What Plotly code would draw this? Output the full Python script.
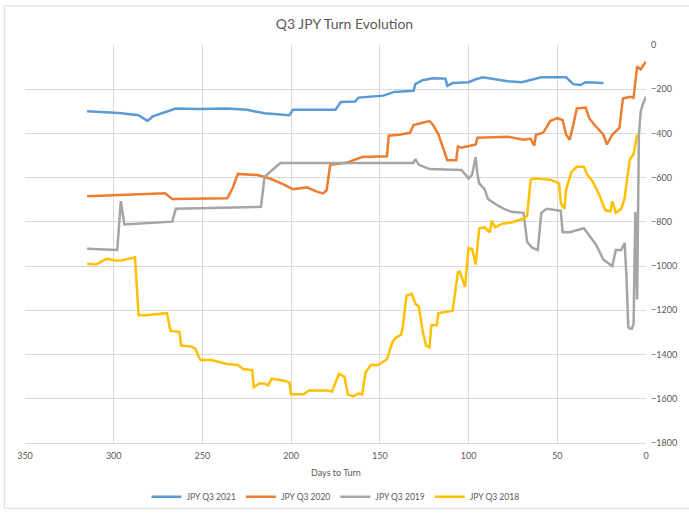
import plotly.graph_objects as go

# JPY Q3 2021
days_2021 = [315, 309, 297, 286, 281, 278, 272, 265, 252, 236, 225, 215, 208, 201, 199, 191, 182, 175, 172, 164, 162,
             148, 142, 131, 130, 126, 120, 113, 112, 109, 100, 96, 92, 85, 78, 70, 59, 45, 41, 37, 34, 24]
vals_2021 = [-300, -303, -308, -318, -343, -323, -308, -287, -289, -287, -293, -309, -313, -318, -293, -293, -295, -293,
             -258, -256, -238, -229, -212, -207, -177, -159, -150, -152, -185, -172, -168, -155, -146, -155, -164, -168,
             -146, -146, -177, -181, -168, -172]

# JPY Q3 2020
days_2020 = [315, 271, 267, 236, 233, 230, 219, 212, 204, 199, 191, 186, 182, 180, 178, 169, 160, 146, 145, 139, 133,
             131, 126, 122, 120, 117, 115, 112, 107, 106, 104, 96, 95, 78, 69, 65, 63, 62, 58, 54, 50, 47, 45, 43, 41,
             39, 34, 32, 29, 24, 22, 19, 15, 13, 9, 7, 5, 3, 0]
vals_2020 = [-684, -671, -697, -693, -648, -583, -588, -604, -631, -652, -644, -662, -671, -657, -542, -533, -507, -503,
             -410, -406, -397, -362, -352, -344, -362, -404, -450, -521, -521, -459, -464, -450, -419, -415, -428, -424,
             -455, -406, -397, -344, -331, -339, -406, -428, -362, -287, -283, -331, -362, -406, -450, -406, -375, -242,
             -234, -238, -97, -110, -75]

# JPY Q3 2019
days_2019 = [315, 298, 296, 294, 267, 265, 217, 215, 210, 206, 131, 130, 128, 122, 104, 100, 98, 96, 95, 94, 91, 89,
             85, 80, 76, 69, 67, 64, 61, 59, 56, 48, 47, 43, 35, 32, 28, 24, 20, 19, 17, 14, 12, 11, 10, 9, 8, 7, 6, 5,
             4, 3, 2, 1, 0]
vals_2019 = [-922, -927, -706, -812, -799, -741, -732, -596, -561, -534, -534, -516, -542, -561, -565, -604, -586, -507,
             -583, -626, -652, -697, -719, -741, -754, -759, -891, -918, -927, -759, -741, -750, -847, -847, -829, -861,
             -905, -971, -993, -1000, -927, -927, -896, -1050, -1275, -1283, -1283, -1262, -754, -1151, -404, -303, -273,
             -252, -234]

# JPY Q3 2018
days_2018 = [315, 310, 304, 298, 295, 289, 288, 286, 282, 270, 268, 263, 262, 256, 254, 252, 251, 245, 241, 236, 230,
             227, 222, 221, 218, 215, 213, 211, 204, 201, 200, 193, 190, 180, 177, 173, 170, 168, 165, 162, 160, 158,
             155, 151, 146, 143, 141, 138, 137, 135, 132, 130, 128, 126, 124, 122, 121, 118, 117, 111, 109, 106, 105,
             102, 100, 98, 96, 94, 91, 88, 87, 85, 81, 76, 69, 67, 65, 63, 54, 49, 48, 46, 45, 42, 39, 35, 33, 30, 26,
             23, 20, 19, 17, 14, 12, 11, 9, 7, 5]
vals_2018 = [-989, -993, -967, -976, -973, -962, -960, -1222, -1222, -1213, -1293, -1297, -1359, -1364, -1374, -1412,
             -1425, -1425, -1434, -1443, -1447, -1465, -1470, -1548, -1531, -1531, -1540, -1509, -1518, -1527, -1580,
             -1580, -1562, -1562, -1567, -1487, -1500, -1580, -1589, -1576, -1580, -1479, -1447, -1447, -1421, -1345,
             -1324, -1310, -1271, -1134, -1125, -1170, -1183, -1289, -1359, -1368, -1267, -1267, -1213, -1205, -1202,
             -1028, -1024, -1094, -918, -924, -993, -829, -825, -847, -794, -825, -808, -803, -786, -772, -609, -604,
             -609, -626, -715, -741, -652, -574, -551, -551, -587, -618, -684, -747, -752, -707, -759, -742, -693,
             -626, -516, -494, -406]

series = [
    ("JPY Q3 2021", days_2021, vals_2021, "#5B9BD5"),
    ("JPY Q3 2020", days_2020, vals_2020, "#ED7D31"),
    ("JPY Q3 2019", days_2019, vals_2019, "#A5A5A5"),
    ("JPY Q3 2018", days_2018, vals_2018, "#FFC000"),
]

x_ticks = [350, 300, 250, 200, 150, 100, 50, 0]
y_ticks = [0, -200, -400, -600, -800, -1000, -1200, -1400, -1600, -1800]

fig = go.Figure()
for name, d, v, c in series:
    fig.add_trace(go.Scatter(x=d, y=v, name=name, mode="lines",
                             line=dict(color=c, width=2.5, shape="linear")))

FONT = "Lato, 'Open Sans', sans-serif"
GRID = "#D9D9D9"
TXT = "#595959"

fig.update_layout(
    width=689, height=523,
    margin=dict(l=25, r=35, t=45, b=70),
    paper_bgcolor="white", plot_bgcolor="white",
    font=dict(family=FONT, size=9, color=TXT),
    title=dict(text="Q3 JPY Turn Evolution", x=0.5, xanchor="center", y=1 - 24 / 523, yanchor="middle",
               font=dict(family=FONT, size=14, color=TXT)),
    showlegend=True,
    legend=dict(orientation="h", x=0.5, xanchor="center", y=-0.135, yanchor="middle",
                font=dict(family=FONT, size=8.5, color=TXT), bgcolor="rgba(0,0,0,0)"),
    xaxis=dict(range=[350, 0], tickvals=x_ticks, showgrid=True, gridcolor=GRID, gridwidth=1,
               showline=True, linecolor=GRID, zeroline=False, ticks="", tickfont=dict(size=9, color=TXT),
               ticklabelstandoff=4),
    yaxis=dict(range=[-1800, 0], tickvals=y_ticks, side="right", showgrid=True, gridcolor=GRID, gridwidth=1,
               zeroline=False, showline=False, ticks="", tickfont=dict(size=9, color=TXT), ticklabelstandoff=4),
    annotations=[dict(text="Days to Turn", xref="paper", yref="paper", x=0.5, y=-0.0735, xanchor="center",
                      yanchor="middle", showarrow=False, font=dict(family=FONT, size=9, color=TXT))],
    shapes=[dict(type="rect", xref="paper", yref="paper", x0=-0.0334, x1=1.1, y0=-0.164, y1=1.098,
                 line=dict(color=GRID, width=1), fillcolor="rgba(0,0,0,0)", layer="below")],
)

fig.write_html("out.html", config={"displayModeBar": False},
               post_script="document.body.style.margin='0';document.body.style.overflow='hidden';")
